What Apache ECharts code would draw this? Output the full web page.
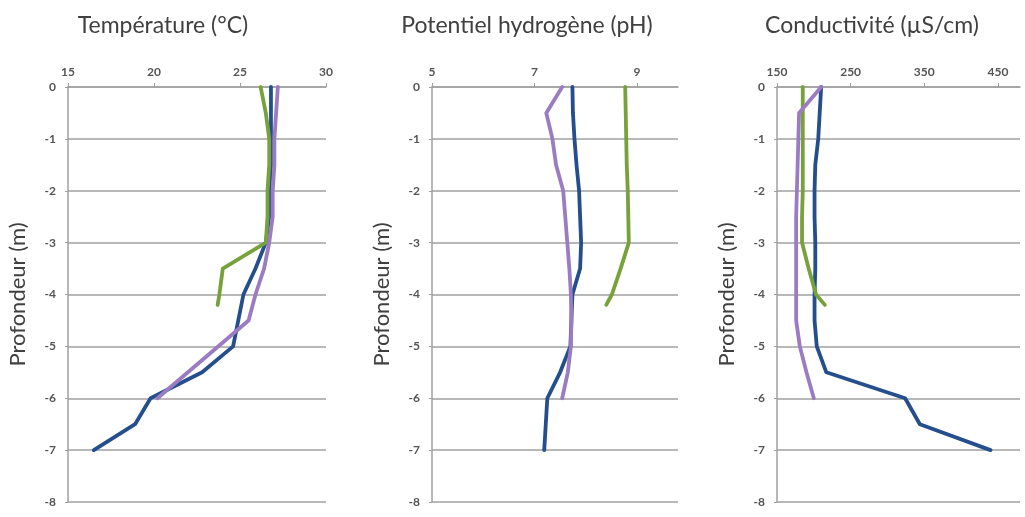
<!DOCTYPE html>
<html>
<head>
<meta charset="utf-8">
<script src="https://cdn.jsdelivr.net/npm/echarts@6/dist/echarts.min.js"></script>
<style>
  html, body { margin: 0; padding: 0; background: #ffffff; }
  #chart { width: 1025px; height: 517px; }
</style>
</head>
<body>
<div id="chart"></div>
<script>
// Depth levels (m) for each profile
const DEPTH_BLUE = [0, -0.5, -1, -1.5, -2, -2.5, -3, -3.5, -4, -4.5, -5, -5.5, -6, -6.5, -7];
const DEPTH_GREEN = [0, -0.5, -1, -1.5, -2, -2.5, -3, -3.5, -4, -4.2];
const DEPTH_PURPLE = [0, -0.5, -1, -1.5, -2, -2.5, -3, -3.5, -4, -4.5, -5, -5.5, -6];
const DEPTH_PURPLE_TEMP = [0, -0.5, -1, -1.5, -2, -2.5, -3, -3.5, -4, -4.5, -6];

// Temperature (°C)
const TEMP_BLUE = [26.8, 26.8, 26.8, 26.8, 26.7, 26.7, 26.5, 25.9, 25.2, 24.9, 24.6, 22.8, 19.8, 18.9, 16.5];
const TEMP_GREEN = [26.2, 26.5, 26.7, 26.7, 26.6, 26.6, 26.5, 24.0, 23.8, 23.7];
const TEMP_PURPLE = [27.2, 27.1, 27.0, 27.0, 26.9, 26.9, 26.7, 26.4, 25.9, 25.5, 20.2];

// pH
const PH_BLUE = [7.74, 7.75, 7.78, 7.82, 7.87, 7.89, 7.91, 7.89, 7.74, 7.72, 7.70, 7.50, 7.25, 7.22, 7.19];
const PH_GREEN = [8.77, 8.78, 8.79, 8.80, 8.82, 8.83, 8.84, 8.68, 8.51, 8.40];
const PH_PURPLE = [7.54, 7.23, 7.35, 7.42, 7.56, 7.60, 7.64, 7.68, 7.71, 7.72, 7.71, 7.65, 7.54];

// Conductivity (µS/cm)
const COND_BLUE = [210, 208, 206, 202, 201, 201, 202, 202, 201, 201, 204, 217, 324, 344, 440];
const COND_GREEN = [185, 185, 185, 185, 185, 184, 184, 193, 203, 215];
const COND_PURPLE = [210, 180, 179, 178, 177, 176, 176, 176, 176, 176, 181, 190, 200];

const TITLES = ['Température (°C)', 'Potentiel hydrogène (pH)', 'Conductivité (µS/cm)'];
const Y_TITLE = 'Profondeur (m)';

const COLORS = { blue: '#244f8c', green: '#77a13a', purple: '#9b7cc2' };
const FONT = 'Lato, "Open Sans", sans-serif';
const GRID_COLOR = '#a0a0a0';
const LABEL_COLOR = '#555555';

const panels = [
  { left: 68, width: 258, min: 15, max: 30, interval: 5, titleX: 163,
    series: [[DEPTH_BLUE, TEMP_BLUE, 'blue'], [DEPTH_GREEN, TEMP_GREEN, 'green'], [DEPTH_PURPLE_TEMP, TEMP_PURPLE, 'purple']] },
  { left: 432, width: 246, min: 5, max: 9.8, interval: 2, titleX: 527,
    series: [[DEPTH_BLUE, PH_BLUE, 'blue'], [DEPTH_GREEN, PH_GREEN, 'green'], [DEPTH_PURPLE, PH_PURPLE, 'purple']] },
  { left: 777, width: 243, min: 150, max: 480, interval: 100, titleX: 872,
    series: [[DEPTH_BLUE, COND_BLUE, 'blue'], [DEPTH_GREEN, COND_GREEN, 'green'], [DEPTH_PURPLE, COND_PURPLE, 'purple']] }
];

const grid = [], xAxis = [], yAxis = [], series = [], graphic = [];
panels.forEach((p, i) => {
  grid.push({ left: p.left, width: p.width, top: 87, height: 415, containLabel: false });
  xAxis.push({
    type: 'value', gridIndex: i, position: 'top', min: p.min, max: p.max, interval: p.interval,
    axisLine: { show: true, onZero: false, lineStyle: { color: GRID_COLOR, width: 1.5 } },
    axisTick: { show: true, length: 4, lineStyle: { color: GRID_COLOR, width: 1 } },
    axisLabel: { color: LABEL_COLOR, fontFamily: FONT, fontSize: 12, fontWeight: 'bold', margin: 9, showMaxLabel: i === 0 },
    splitLine: { show: false }
  });
  yAxis.push({
    type: 'value', gridIndex: i, min: -8, max: 0, interval: 1,
    name: Y_TITLE, nameLocation: 'middle', nameRotate: 90, nameGap: 39,
    nameTextStyle: { color: '#404040', fontFamily: FONT, fontSize: 22 },
    axisLine: { show: true, lineStyle: { color: GRID_COLOR, width: 1.5 } },
    axisTick: { show: true, length: 3, lineStyle: { color: GRID_COLOR, width: 1 } },
    axisLabel: { color: LABEL_COLOR, fontFamily: FONT, fontSize: 12, fontWeight: 'bold', margin: 12 },
    splitLine: { show: true, lineStyle: { color: GRID_COLOR, width: 1.5 } }
  });
  p.series.forEach(([depths, vals, c]) => {
    series.push({
      type: 'line', xAxisIndex: i, yAxisIndex: i, symbol: 'none', smooth: false,
      data: vals.map((v, k) => [v, depths[k]]),
      lineStyle: { color: COLORS[c], width: 3.8, cap: 'round', join: 'round' },
      itemStyle: { color: COLORS[c] }
    });
  });
  graphic.push({
    type: 'text', x: p.titleX, y: 26,
    style: { text: TITLES[i], fill: '#404040', font: '23px ' + FONT, textAlign: 'center', textVerticalAlign: 'middle' }
  });
});

const chart = echarts.init(document.getElementById('chart'), null, { renderer: 'canvas' });
chart.setOption({
  animation: false,
  backgroundColor: '#ffffff',
  grid, xAxis, yAxis, series, graphic
});
</script>
</body>
</html>
